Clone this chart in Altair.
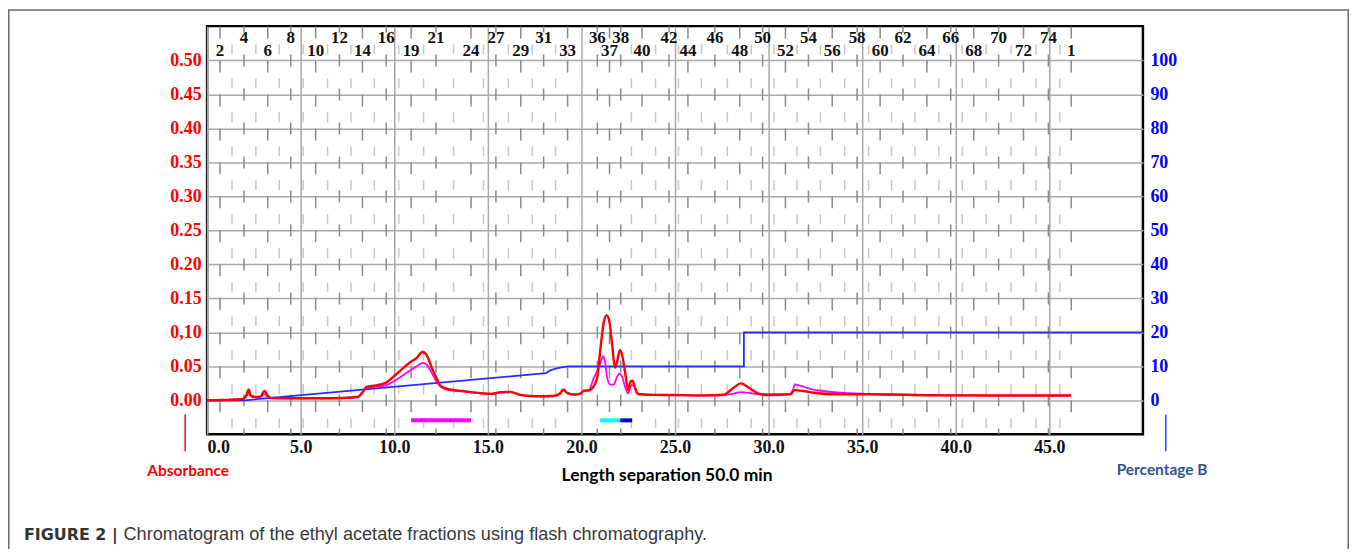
import altair as alt
import pandas as pd

# ---------------- data ----------------
red_time = [0.0, 0.85, 1.92, 2.1, 2.22, 2.33, 2.54, 2.84, 3.07, 3.25, 3.43, 4.2, 6.0, 7.25,
            8.05, 8.28, 8.5, 9.03, 9.56, 10.09, 10.8, 11.2, 11.51, 11.69, 12.05, 12.25, 12.49,
            12.94, 13.65, 14.5, 15.2, 15.7, 16.2, 16.75, 17.6, 18.5, 18.85, 19.03, 19.24, 19.6,
            19.95, 20.13, 20.4, 20.58, 20.84, 21.02, 21.2, 21.34, 21.47, 21.64, 21.79, 21.91,
            22.05, 22.17, 22.35, 22.5, 22.62, 22.73, 22.88, 23.06, 24.0, 24.75, 26.5, 27.6,
            28.13, 28.52, 29.02, 29.55, 30.08, 31.15, 31.4, 31.86, 32.4, 33.64, 35.4, 38.96,
            42.5, 46.16]
red_abs = [0.000, 0.0005, 0.002, 0.008, 0.016, 0.007, 0.005, 0.0055, 0.0137, 0.0063, 0.0034,
           0.003, 0.003, 0.0035, 0.005, 0.0112, 0.0195, 0.022, 0.026, 0.038, 0.055, 0.0625,
           0.071, 0.068, 0.045, 0.033, 0.021, 0.016, 0.0137, 0.011, 0.0095, 0.012, 0.0125,
           0.008, 0.006, 0.0064, 0.010, 0.016, 0.011, 0.0085, 0.010, 0.0142, 0.0145, 0.0176,
           0.033, 0.077, 0.116, 0.125, 0.119, 0.082, 0.048, 0.0577, 0.0737, 0.067, 0.038,
           0.0147, 0.0274, 0.029, 0.017, 0.009, 0.008, 0.0078, 0.0073, 0.0083, 0.0185, 0.0249,
           0.017, 0.009, 0.0078, 0.0088, 0.015, 0.0137, 0.0112, 0.009, 0.009, 0.0073, 0.007,
           0.007]

mag_time = [0.0, 0.85, 1.92, 2.1, 2.22, 2.33, 2.54, 2.84, 3.07, 3.25, 3.43, 4.2, 6.0, 7.25,
            8.05, 8.28, 8.5, 9.03, 9.56, 10.09, 10.8, 11.2, 11.55, 11.8, 12.05, 12.25, 12.49,
            12.94, 13.65, 14.5, 15.2, 15.7, 16.2, 16.75, 17.6, 18.5, 18.85, 19.03, 19.24, 19.6,
            19.95, 20.13, 20.4, 20.63, 20.84, 21.02, 21.15, 21.25, 21.38, 21.55, 21.73, 21.91,
            22.05, 22.17, 22.35, 22.5, 22.66, 22.8, 22.97, 24.0, 26.5, 27.6, 28.13, 28.52,
            29.02, 29.55, 31.15, 31.3, 31.4, 31.68, 32.22, 32.93, 33.64, 35.4, 38.96, 42.5, 46.16]
mag_abs = [0.000, 0.0005, 0.002, 0.006, 0.010, 0.006, 0.0045, 0.005, 0.009, 0.0055, 0.0032,
           0.003, 0.003, 0.0033, 0.0045, 0.010, 0.018, 0.020, 0.022, 0.030, 0.043, 0.050,
           0.055, 0.050, 0.038, 0.028, 0.020, 0.015, 0.013, 0.0105, 0.009, 0.0115, 0.012,
           0.0078, 0.0058, 0.0062, 0.0095, 0.0145, 0.0105, 0.0082, 0.0098, 0.014, 0.0145,
           0.031, 0.043, 0.055, 0.065, 0.058, 0.033, 0.023, 0.0235, 0.035, 0.0395, 0.035,
           0.018, 0.010, 0.0225, 0.0225, 0.010, 0.008, 0.007, 0.0073, 0.010, 0.0122, 0.0105,
           0.009, 0.0095, 0.015, 0.0235, 0.0215, 0.017, 0.0137, 0.0115, 0.0093, 0.0075,
           0.007, 0.007]

grad_time = [0.0, 2.0, 18.1, 18.33, 18.72, 19.26, 28.68, 28.68, 50.0]
grad_pct = [0.0, 0.0, 8.0, 8.8, 9.5, 10.0, 10.0, 20.0, 20.0]

frac_names = ["2", "4", "6", "8", "10", "12", "14", "16", "19", "21", "24", "27", "29", "31",
              "33", "36", "37", "38", "40", "42", "44", "46", "48", "50", "52", "54", "56",
              "58", "60", "62", "64", "66", "68", "70", "72", "74", "1"]
frac_time = [0.69, 1.97, 3.24, 4.47, 5.80, 7.07, 8.30, 9.57, 10.90, 12.23, 14.10, 15.43,
             16.76, 17.98, 19.26, 20.85, 21.5, 22.1, 23.24, 24.68, 25.69, 27.13, 28.46, 29.68,
             30.90, 32.13, 33.40, 34.73, 35.96, 37.18, 38.46, 39.73, 40.96, 42.29, 43.62,
             44.95, 46.17]

coll_start = [10.9, 21.0, 22.07]
coll_end = [14.1, 22.07, 22.71]
coll_color = ["#ff00ff", "#00ffff", "#0000cd"]

x_ticks = [0, 5, 10, 15, 20, 25, 30, 35, 40, 45]
abs_ticks = [0.0, 0.05, 0.1, 0.15, 0.2, 0.25, 0.3, 0.35, 0.4, 0.45, 0.5]
pct_ticks = [0, 10, 20, 30, 40, 50, 60, 70, 80, 90, 100]

# ---------------- layout ----------------
W, H = 940, 410
xs = alt.Scale(domain=[0, 50], nice=False, zero=False)
ys = alt.Scale(domain=[-0.05, 0.5505], nice=False, zero=False)
ps = alt.Scale(domain=[-10, 110.1], nice=False, zero=False)

SERIF = "Liberation Serif"
SANS = "Lato"

red_df = pd.DataFrame({"t": red_time, "a": red_abs})
mag_df = pd.DataFrame({"t": mag_time, "a": mag_abs})
grad_df = pd.DataFrame({"t": grad_time, "pct": grad_pct, "i": list(range(len(grad_time)))})
frac_df = pd.DataFrame({"t": frac_time, "name": frac_names,
                        "row": ["lower" if i % 2 == 0 else "upper" for i in range(len(frac_names))]})
mids = [(a + b) / 2 for a, b in zip(frac_time[:-1], frac_time[1:]) if b - a > 0.9]
mid_df = pd.DataFrame({"t": mids})
coll_df = pd.DataFrame({"s": coll_start, "e": coll_end, "c": coll_color})
one = pd.DataFrame({"k": [0]})

x_axis = alt.Axis(orient="bottom", values=x_ticks, format=".1f", grid=True, gridColor="#a8a8a8",
                  gridWidth=1.5, ticks=False, domain=False, labelFont=SERIF,
                  labelFontWeight="bold", labelFontSize=18, labelColor="#111", labelPadding=4,
                  title="Length separation 50.0 min", titleX=461.5, titleY=41,
                  titleAlign="center", titleBaseline="middle", titleFont=SANS, titleFontSize=17.5,
                  titleFontWeight="bold", titleColor="#000000")
y_axis = alt.Axis(orient="left", values=abs_ticks, grid=True, gridColor="#a8a8a8", gridWidth=1.5,
                  ticks=False, domain=False, labelFont=SERIF, labelFontWeight="bold",
                  labelFontSize=18, labelColor="#ff0000", labelPadding=6,
                  labelExpr="abs(datum.value - 0.1) < 0.000001 ? '0,10' : format(datum.value, '.2f')",
                  title="Absorbance", titleAngle=0, titleX=-19.5, titleY=446,
                  titleAlign="center", titleBaseline="middle", titleFont=SANS, titleFontSize=15.5,
                  titleFontWeight="bold", titleColor="#ff0000")
right_axis = alt.Axis(orient="right", values=pct_ticks, format="d", grid=False, ticks=False,
                      domain=False, labelFont=SERIF, labelFontWeight="bold", labelFontSize=18,
                      labelColor="#0000ff", labelPadding=7, labelAlign="left",
                      title="Percentage B", titleAngle=0, titleX=18.7, titleY=445,
                      titleAlign="center", titleBaseline="middle", titleFont=SANS,
                      titleFontSize=15.5, titleFontWeight="bold", titleColor="#2f5496")

# axis carrier (drawn first, invisible points) so the grid sits beneath everything
axis_layer = alt.Chart(mag_df).mark_point(opacity=0).encode(
    x=alt.X("t:Q", scale=xs, axis=x_axis), y=alt.Y("a:Q", scale=ys, axis=y_axis))

light = alt.Chart(mid_df).mark_rule(color="#c8c8c8", strokeWidth=1.5, strokeDash=[10, 24.14],
                                     strokeDashOffset=15.8).encode(
    x=alt.X("t:Q", scale=xs, axis=None), y=alt.value(0), y2=alt.value(H))
dark_lo = alt.Chart(frac_df).transform_filter("datum.row == 'lower'").mark_rule(
    color="#8a8a8a", strokeWidth=1.5, strokeDash=[12, 22.14], strokeDashOffset=33.8).encode(
    x=alt.X("t:Q", scale=xs, axis=None), y=alt.value(0), y2=alt.value(H))
dark_up = alt.Chart(frac_df).transform_filter("datum.row == 'upper'").mark_rule(
    color="#8a8a8a", strokeWidth=1.5, strokeDash=[12, 22.14], strokeDashOffset=5.6).encode(
    x=alt.X("t:Q", scale=xs, axis=None), y=alt.value(0), y2=alt.value(H))
lab_lo = alt.Chart(frac_df).transform_filter("datum.row == 'lower'").mark_text(
    font=SERIF, fontWeight="bold", fontSize=17, color="#111", baseline="middle").encode(
    x=alt.X("t:Q", scale=xs, axis=None), y=alt.value(25), text="name:N")
lab_up = alt.Chart(frac_df).transform_filter("datum.row == 'upper'").mark_text(
    font=SERIF, fontWeight="bold", fontSize=17, color="#111", baseline="middle").encode(
    x=alt.X("t:Q", scale=xs, axis=None), y=alt.value(12), text="name:N")
coll = alt.Chart(coll_df).mark_rule(strokeWidth=4).encode(
    x=alt.X("s:Q", scale=xs, axis=None), x2="e:Q", y=alt.value(396),
    color=alt.Color("c:N", scale=None))

blue = alt.Chart(grad_df).mark_line(color="#2a2aff", strokeWidth=1.8).encode(
    x=alt.X("t:Q", scale=xs, axis=None),
    y=alt.Y("pct:Q", scale=ps, axis=right_axis),
    order="i:Q")
mag_line = alt.Chart(mag_df).mark_line(color="#ff00ff", strokeWidth=1.8,
                                       interpolate="monotone").encode(
    x=alt.X("t:Q", scale=xs, axis=None), y=alt.Y("a:Q", scale=ys, axis=None))
red_line = alt.Chart(red_df).mark_line(color="#ff0000", strokeWidth=2.4,
                                       interpolate="monotone").encode(
    x=alt.X("t:Q", scale=xs, axis=None), y=alt.Y("a:Q", scale=ys, axis=None))

frame = alt.Chart(one).mark_rect(fillOpacity=0, stroke="#6a6a6a", strokeWidth=1.5).encode(
    x=alt.value(-199.25), x2=alt.value(1146.25), y=alt.value(-16.25), y2=alt.value(560))
red_tick = alt.Chart(one).mark_rule(color="#ff0000", strokeWidth=1.5).encode(
    x=alt.value(-22), y=alt.value(390), y2=alt.value(427))
blue_tick = alt.Chart(one).mark_rule(color="#3344ff", strokeWidth=1.5).encode(
    x=alt.value(963), y=alt.value(390), y2=alt.value(427))
cap_bold = alt.Chart(one).mark_text(font="DejaVu Sans", fontSize=16, fontWeight="bold",
                                    color="#333333", align="left", baseline="alphabetic").encode(
    x=alt.value(-184), y=alt.value(516), text=alt.value("FIGURE 2 |"))
cap_text = alt.Chart(one).mark_text(font="Liberation Sans", fontSize=18.2, color="#3a3a3a",
                                    align="left", baseline="alphabetic").encode(
    x=alt.value(-84), y=alt.value(516),
    text=alt.value("Chromatogram of the ethyl acetate fractions using flash chromatography."))

chart = alt.layer(axis_layer, light, dark_lo, dark_up, lab_lo, lab_up, coll, blue, mag_line,
                  red_line, frame, red_tick, blue_tick, cap_bold, cap_text
                  ).resolve_scale(x="independent", y="independent").properties(
    width=W, height=H,
    autosize=alt.AutoSizeParams(type="none"),
    padding={"left": 200, "top": 17, "right": 207, "bottom": 114},
    background="white",
).configure_view(stroke="black", strokeWidth=2.5)

chart.save("out.html", embed_options={"renderer": "svg", "actions": False})
